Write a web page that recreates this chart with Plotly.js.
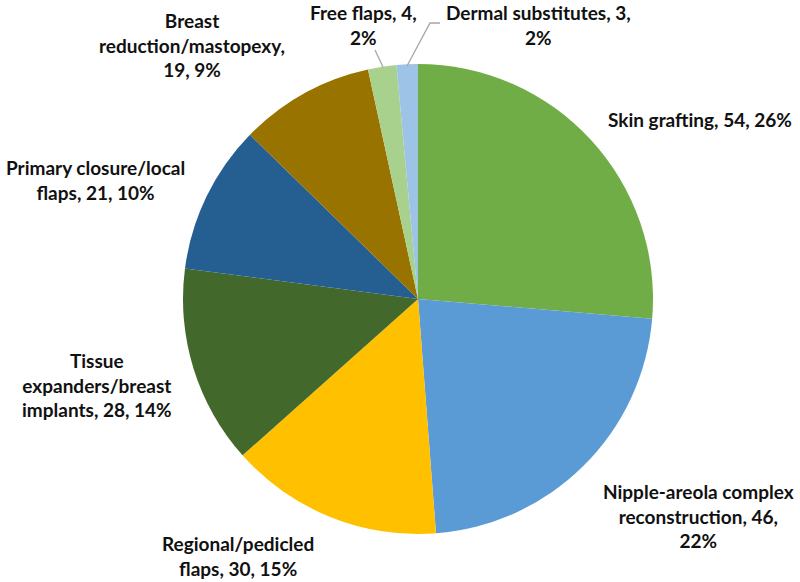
<!DOCTYPE html>
<html>
<head>
<meta charset="utf-8">
<script src="https://cdn.plot.ly/plotly-3.0.1.min.js"></script>
<style>html,body{margin:0;padding:0;background:#fff;}#chart{width:800px;height:582px;}</style>
</head>
<body>
<div id="chart"></div>
<script>
const categories = ["Skin grafting", "Nipple-areola complex reconstruction", "Regional/pedicled flaps", "Tissue expanders/breast implants", "Primary closure/local flaps", "Breast reduction/mastopexy", "Free flaps", "Dermal substitutes"];
const counts = [54, 46, 30, 28, 21, 19, 4, 3];
const percentLabels = ["26%", "22%", "15%", "14%", "10%", "9%", "2%", "2%"];
const labelTexts = [
  "Skin grafting, 54, 26%",
  "Nipple-areola complex<br>reconstruction, 46,<br>22%",
  "Regional/pedicled<br>flaps, 30, 15%",
  "Tissue<br>expanders/breast<br>implants, 28, 14%",
  "Primary closure/local<br>flaps, 21, 10%",
  "Breast<br>reduction/mastopexy,<br>19, 9%",
  "Free flaps, 4,<br>2%",
  "Dermal substitutes, 3,<br>2%"
];
const colors = ["#70AD47", "#5B9BD5", "#FFC000", "#43682B", "#255E91", "#997300", "#A9D18E", "#9DC3E6"];

// label placement (pixel centres), styling only
const labelPos = [[700,120],[698,516],[238,556],[97,385],[95,180],[192,45],[363,25],[538,25]];
const W = 800, H = 582;
const px = x => x / W, py = y => 1 - y / H;

const annotations = labelTexts.map((t, i) => ({
  text: t, x: px(labelPos[i][0]), y: py(labelPos[i][1]), xref: 'paper', yref: 'paper',
  xanchor: 'center', yanchor: 'middle', showarrow: false, align: 'center',
  font: {family: 'Lato, "Open Sans", sans-serif', size: 19, color: '#111111', weight: 'bold'}
}));

const shapes = [
  {type: 'path', xref: 'paper', yref: 'paper', path: `M ${px(375)},${py(50)} L ${px(383)},${py(67)}`, line: {color: '#A6A6A6', width: 1.3}},
  {type: 'path', xref: 'paper', yref: 'paper', path: `M ${px(440)},${py(23)} L ${px(430)},${py(23)} L ${px(407)},${py(66)}`, line: {color: '#A6A6A6', width: 1.3}}
];

const trace = {
  type: 'pie', labels: categories, values: counts, customdata: percentLabels,
  sort: false, direction: 'clockwise', rotation: 0,
  marker: {colors: colors, line: {width: 0}},
  textinfo: 'none', hoverinfo: 'label+value+percent', showlegend: false,
  domain: {x: [183/W, 653/W], y: [1 - 534/H, 1 - 64/H]}
};

Plotly.newPlot('chart', [trace], {
  width: W, height: H, margin: {l: 0, r: 0, t: 0, b: 0},
  paper_bgcolor: '#ffffff', plot_bgcolor: '#ffffff',
  showlegend: false, annotations: annotations, shapes: shapes
}, {displayModeBar: false, staticPlot: true});
</script>
</body>
</html>
